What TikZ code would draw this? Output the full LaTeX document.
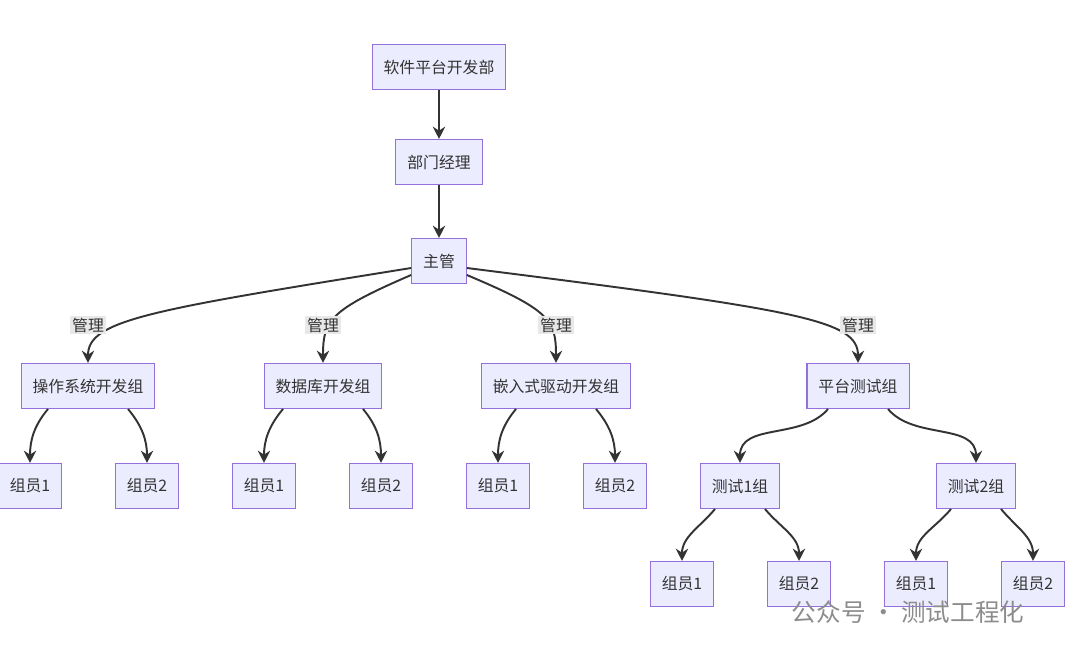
\documentclass[tikz,border=0pt]{standalone}
\usepackage{fontspec}
\newfontfamily\cjk{Noto Sans CJK SC}
\usetikzlibrary{arrows.meta}
\definecolor{boxfill}{HTML}{ECECFF}
\definecolor{boxline}{HTML}{9370DB}
\definecolor{edgecol}{HTML}{333333}
\definecolor{lblfill}{HTML}{E8E8E8}
\begin{document}
\begin{tikzpicture}[x=0.02cm, y=-0.02cm, cjk/.style={font=\cjk\fontsize{9}{11}\selectfont},
    box/.style={cjk, draw=boxline, fill=boxfill, line width=0.6pt, minimum height=0.9cm, inner xsep=0.23cm, text=black!80},
    lbl/.style={cjk, fill=lblfill, inner sep=1pt, text=black!80},
    link/.style={draw=edgecol, line width=1.1pt, -{Stealth[length=7pt,width=7pt]}}]
  \useasboundingbox (0,0) rectangle (1080,659);
  \node[box] (dept) at (439,67) {软件平台开发部};
  \node[box] (mgr) at (439,162) {部门经理};
  \node[box] (lead) at (439,261) {主管};
  \node[box] (os) at (88,386) {操作系统开发组};
  \node[box] (db) at (323,386) {数据库开发组};
  \node[box] (emb) at (556,386) {嵌入式驱动开发组};
  \node[box] (test) at (858,386) {平台测试组};
  \node[box] (os1) at (30,486) {组员1};
  \node[box] (os2) at (147,486) {组员2};
  \node[box] (db1) at (264,486) {组员1};
  \node[box] (db2) at (381,486) {组员2};
  \node[box] (emb1) at (498,486) {组员1};
  \node[box] (emb2) at (615,486) {组员2};
  \node[box] (t1) at (740,486) {测试1组};
  \node[box] (t2) at (976,486) {测试2组};
  \node[box] (t11) at (682,584) {组员1};
  \node[box] (t12) at (799,584) {组员2};
  \node[box] (t21) at (916,584) {组员1};
  \node[box] (t22) at (1033,584) {组员2};
  % top chain
  \draw[link] (dept) -- (mgr);
  \draw[link] (mgr) -- (lead);
  % managed groups
  \draw[link] (lead.west) ++(0,7) .. controls (150,310) and (88,320) .. (os.north);
  \draw[link] (lead.west) ++(0,14) .. controls (330,310) and (323,320) .. (db.north);
  \draw[link] (lead.east) ++(0,14) .. controls (550,310) and (556,320) .. (emb.north);
  \draw[link] (lead.east) ++(0,7) .. controls (800,310) and (858,320) .. (test.north);
  \foreach \x/\n in {88/la, 323/lb, 556/lc, 858/ld}
    \node[lbl] (\n) at (\x,325) {管理};
  % members
  \foreach \p/\c/\dx in {os/os1/-40, os/os2/40, db/db1/-40, db/db2/40, emb/emb1/-40, emb/emb2/40, test/t1/-30, test/t2/30, t1/t11/-25, t1/t12/25, t2/t21/-25, t2/t22/25}
    \draw[link] ([xshift=\dx*0.02cm]\p.south) to[out={\dx<0 ? -130 : -50}, in=90] (\c);
  \node[cjk, text=black!45, font=\cjk\fontsize{14}{16}\selectfont] (mark) at (908,612) {公众号 · 测试工程化};
\end{tikzpicture}
\end{document}
